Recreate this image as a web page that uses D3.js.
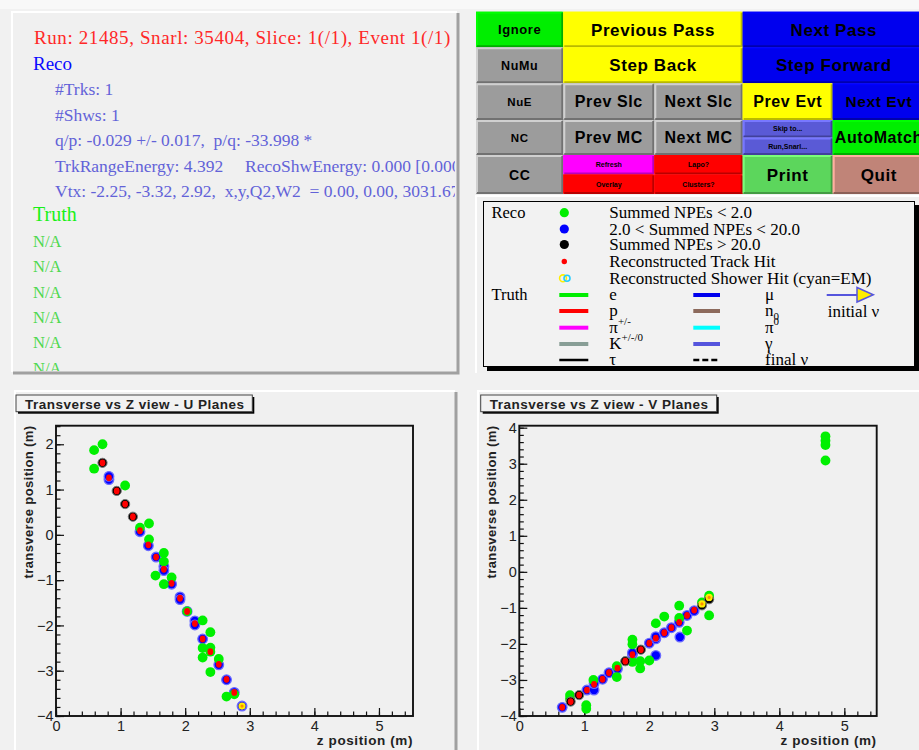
<!DOCTYPE html>
<html><head><meta charset="utf-8">
<script src="https://cdn.jsdelivr.net/npm/d3@7"></script>
<style>body{margin:0;background:#f7f7f7;} svg{display:block}</style>
</head><body><svg id="c" width="919" height="750"></svg>
<script>
// ---------------- DATA ----------------
const headerLine = "Run: 21485, Snarl: 35404, Slice: 1(/1), Event 1(/1)";
const recoTitle = "Reco";
const recoLines = ["#Trks: 1", "#Shws: 1",
  "q/p: -0.029 +/- 0.017,  p/q: -33.998 *",
  "TrkRangeEnergy: 4.392     RecoShwEnergy: 0.000 [0.000 GeV]",
  "Vtx: -2.25, -3.32, 2.92,  x,y,Q2,W2  = 0.00, 0.00, 3031.67"];
const truthTitle = "Truth";
const truthLines = ["N/A", "N/A", "N/A", "N/A", "N/A", "N/A"];

const buttonRows = [
  ["Ignore", "Previous Pass", "Next Pass"],
  ["NuMu", "Step Back", "Step Forward"],
  ["NuE", "Prev Slc", "Next Slc", "Prev Evt", "Next Evt"],
  ["NC", "Prev MC", "Next MC", ["Skip to...", "Run,Snarl..."], "AutoMatch"],
  ["CC", ["Refresh", "Overlay"], ["Lapo?", "Clusters?"], "Print", "Quit"]
];

const recoLegend = ["Summed NPEs < 2.0", "2.0 < Summed NPEs < 20.0", "Summed NPEs > 20.0",
  "Reconstructed Track Hit", "Reconstructed Shower Hit (cyan=EM)"];
const truthLegendA = [["e", ""], ["p", ""], ["π", "+/-"], ["K", "+/-/0"], ["τ", ""]];
const truthLegendB = [["μ", ""], ["n", "0"], ["π", "0"], ["γ", ""], ["final ν", ""]];
const initialNuLabel = "initial ν";

const plotTitles = ["Transverse vs Z view - U Planes", "Transverse vs Z view - V Planes"];
const xAxisTitle = "z position (m)";
const yAxisTitle = "transverse position (m)";

// U view hits [z, transverse]
const uLowNPE = [[0.59,1.87],[0.72,2.00],[0.59,1.46],[1.07,1.09],[1.30,0.16],[1.44,0.25],[1.44,-0.10],
  [1.67,-0.40],[1.67,-0.59],[1.54,-0.90],[1.67,-1.09],[1.79,-0.94],[2.03,-1.69],[2.27,-1.89],[2.39,-2.15],
  [2.27,-2.50],[2.39,-2.49],[2.39,-2.58],[2.27,-2.71],[2.52,-2.74],[2.39,-3.03],[2.64,-3.57],[2.76,-3.52]];
const uMedNPE = [[0.82,1.22],[0.82,1.29],[1.30,0.07],[1.43,-0.24],[1.55,-0.49],[1.67,-0.70],[1.67,-0.79],
  [1.79,-1.09],[1.92,-1.37],[1.92,-1.43],[2.03,-1.69],[2.15,-1.90],[2.15,-1.99],[2.27,-2.30],[2.52,-2.87],
  [2.64,-3.20],[2.76,-3.48],[2.88,-3.78]];
const uHighNPE = [[0.72,1.59],[0.94,0.97],[1.07,0.68],[1.19,0.40]];
const uTrackHits = [[0.72,1.59],[0.82,1.26],[0.94,0.97],[1.07,0.68],[1.19,0.40],[1.30,0.09],[1.43,-0.22],
  [1.55,-0.49],[1.67,-0.76],[1.79,-1.07],[1.92,-1.40],[2.03,-1.69],[2.15,-1.96],[2.27,-2.30],[2.39,-2.58],
  [2.52,-2.86],[2.64,-3.19],[2.76,-3.48]];
const uShowerHits = [[2.88,-3.78]];

// V view hits [z, transverse]
const vLowNPE = [[4.71,3.76],[4.71,3.64],[4.71,3.52],[4.71,3.09],[0.78,-3.42],[0.78,-3.52],[1.03,-3.70],
  [1.03,-3.80],[1.14,-3.00],[1.50,-2.62],[1.50,-2.92],[1.74,-1.88],[1.74,-2.01],[1.74,-2.50],[1.86,-2.48],
  [1.86,-2.68],[2.00,-2.46],[2.10,-1.43],[2.23,-1.24],[2.46,-0.94],[2.46,-1.28],[2.58,-1.63],[2.92,-1.21],
  [2.81,-0.85],[2.92,-0.66],[2.92,-0.72]];
const vMedNPE = [[0.66,-3.76],[1.04,-3.28],[1.15,-3.28],[1.15,-3.10],[1.28,-2.98],[1.38,-2.80],[1.51,-2.69],
  [1.74,-2.30],[1.74,-2.25],[2.00,-1.98],[2.10,-1.86],[2.10,-1.80],[2.23,-1.69],[2.34,-1.55],[2.46,-1.40],
  [2.58,-1.21],[2.69,-1.08],[2.10,-2.32],[2.47,-1.81]];
const vHighNPE = [[0.79,-3.60],[0.92,-3.42],[1.63,-2.48],[1.87,-2.16],[2.81,-0.93],[2.92,-0.76]];
const vTrackHits = [[0.66,-3.76],[0.79,-3.60],[0.92,-3.42],[1.04,-3.28],[1.15,-3.12],[1.28,-2.98],[1.38,-2.80],
  [1.51,-2.67],[1.63,-2.48],[1.74,-2.30],[1.87,-2.16],[2.00,-1.98],[2.10,-1.84],[2.23,-1.69],[2.34,-1.55],
  [2.46,-1.40],[2.58,-1.21],[2.69,-1.06]];
const vShowerHits = [[2.81,-0.89],[2.92,-0.71]];

// ---------------- DRAWING ----------------
const svg = d3.select("#c");
const SERIF = "'Liberation Serif','Times New Roman',serif";
const SANS = "'Liberation Sans',Arial,Helvetica,sans-serif";
const keepSpaces = s => s.replace(/ /g, "\u00a0");

svg.append("rect").attr("width", 919).attr("height", 750).attr("fill", "#f1f1f1");
svg.append("rect").attr("width", 919).attr("height", 9).attr("fill", "#f8f8f8");

function panel(x, y, w, h, shadow) {
  const g = svg.append("g");
  g.append("rect").attr("x", x).attr("y", y).attr("width", w).attr("height", h).attr("fill", "#f0f0f0");
  g.append("path").attr("d", `M${x},${y + h}V${y}H${x + w}`).attr("stroke", "#ffffff").attr("stroke-width", 2).attr("fill", "none");
  if (shadow) g.append("path").attr("d", `M${x + 1},${y + h + 1}H${x + w + 1}V${y + 1}`).attr("stroke", "#a0a0a0").attr("stroke-width", 3).attr("fill", "none");
  return g;
}

// ---- Text panel ----
panel(12, 12, 445, 360, true);
const defs = svg.append("defs");
defs.append("clipPath").attr("id", "tclip").append("rect").attr("x", 12).attr("y", 12).attr("width", 443).attr("height", 359);
const tg = svg.append("g").attr("clip-path", "url(#tclip)").style("font-family", SERIF);
tg.append("text").attr("x", 34).attr("y", 44).attr("font-size", 19).attr("fill", "#ff2828")
  .style("letter-spacing", "0.6px").text(keepSpaces(headerLine));
tg.append("text").attr("x", 33).attr("y", 70).attr("font-size", 19).attr("fill", "#0a0aff").text(recoTitle);
tg.selectAll("text.reco").data(recoLines).join("text").attr("class", "reco")
  .attr("x", 55).attr("y", (d, i) => 95 + i * 25.5).attr("font-size", 17.5).attr("fill", "#6262d8").text(d => keepSpaces(d));
tg.append("text").attr("x", 33).attr("y", 221).attr("font-size", 20).attr("fill", "#18f018").text(truthTitle);
tg.selectAll("text.truth").data(truthLines).join("text").attr("class", "truth")
  .attr("x", 33).attr("y", (d, i) => 247 + i * 25.3).attr("font-size", 16.5).attr("fill", "#4ed84e").text(d => d);

// ---- Buttons ----
const colEdges = [476, 563.3, 654.3, 742.7, 832.7, 925];
const rowEdges = [11.7, 47.3, 83.3, 120, 155, 194];
const btnColor = {
  "Ignore": "#00ee00", "Previous Pass": "#ffff00", "Next Pass": "#0000ee", "NuMu": "#9c9c9c",
  "Step Back": "#ffff00", "Step Forward": "#0000ee", "NuE": "#9c9c9c", "Prev Slc": "#9c9c9c",
  "Next Slc": "#9c9c9c", "Prev Evt": "#ffff00", "Next Evt": "#0000ee", "NC": "#9c9c9c", "Prev MC": "#9c9c9c",
  "Next MC": "#9c9c9c", "Skip to...": "#5a5ad6", "Run,Snarl...": "#5a5ad6", "AutoMatch": "#00ee00", "CC": "#9c9c9c",
  "Refresh": "#ff00ff", "Overlay": "#ff0000", "Lapo?": "#ff0000", "Clusters?": "#ff0000", "Print": "#5cd65c", "Quit": "#c08478"
};
const btnFont = {
  "Ignore": 13, "NuMu": 12.5, "NuE": 11.5, "NC": 11.5, "CC": 14, "Previous Pass": 17, "Next Pass": 17,
  "Step Back": 17, "Step Forward": 17, "AutoMatch": 16, "Print": 17, "Quit": 17, "Next Evt": 15.5
};
const bg = svg.append("g").style("font-family", SANS).style("font-weight", "bold");
function button(x0, x1, y0, y1, label) {
  const c = d3.color(btnColor[label]);
  bg.append("rect").attr("x", x0).attr("y", y0).attr("width", x1 - x0).attr("height", y1 - y0).attr("fill", c);
  bg.append("path").attr("d", `M${x0 + 1},${y1 - 1}V${y0 + 1}H${x1 - 1}`).attr("stroke", c.brighter(0.8)).attr("stroke-width", 2).attr("fill", "none");
  bg.append("path").attr("d", `M${x0 + 1},${y1 - 1}H${x1 - 1}V${y0 + 1}`).attr("stroke", c.darker(0.9)).attr("stroke-width", 2).attr("fill", "none");
  const h = y1 - y0;
  const fs = btnFont[label] || (h < 20 ? 7 : 16);
  bg.append("text").attr("x", (x0 + x1) / 2).attr("y", (y0 + y1) / 2 + fs * 0.36).attr("text-anchor", "middle")
    .attr("font-size", fs).attr("fill", "#000").style("letter-spacing", h < 20 ? "0px" : "0.6px").text(label);
}
buttonRows.forEach((row, ri) => {
  const y0 = rowEdges[ri], y1 = rowEdges[ri + 1];
  const spans = row.length === 3 ? [[0, 1], [1, 3], [3, 5]] : row.map((d, i) => [i, i + 1]);
  row.forEach((lab, ci) => {
    const x0 = colEdges[spans[ci][0]], x1 = colEdges[spans[ci][1]];
    if (Array.isArray(lab)) {
      const ym = (y0 + y1) / 2;
      button(x0, x1, y0, ym, lab[0]);
      button(x0, x1, ym, y1, lab[1]);
    } else button(x0, x1, y0, y1, lab);
  });
});

// ---- Legend ----
panel(476, 196, 450, 177, false);
const lg = svg.append("g").style("font-family", SERIF);
lg.append("rect").attr("x", 487).attr("y", 205).attr("width", 432).attr("height", 166).attr("fill", "#000");
lg.append("rect").attr("x", 483.5).attr("y", 201.5).attr("width", 431).attr("height", 165).attr("fill", "#f2f2f2").attr("stroke", "#000").attr("stroke-width", 1);
const legRowY = [212.7, 229, 244.5, 261.5, 278.3, 295, 311, 327.7, 344, 360];
lg.append("text").attr("x", 491.5).attr("y", legRowY[0] + 5).attr("font-size", 16.5).text("Reco");
lg.append("text").attr("x", 491.5).attr("y", legRowY[5] + 5).attr("font-size", 16.5).text("Truth");
lg.selectAll("text.rl").data(recoLegend).join("text").attr("class", "rl")
  .attr("x", 609.3).attr("y", (d, i) => legRowY[i] + 5.5).attr("font-size", 17).text(d => d);
const mk = lg.append("g");
mk.append("circle").attr("cx", 564.3).attr("cy", legRowY[0]).attr("r", 4.6).attr("fill", "#00ee00");
mk.append("circle").attr("cx", 564.3).attr("cy", legRowY[1]).attr("r", 4.6).attr("fill", "#0000ff");
mk.append("circle").attr("cx", 564.3).attr("cy", legRowY[2]).attr("r", 4.6).attr("fill", "#000");
mk.append("circle").attr("cx", 564.3).attr("cy", legRowY[3]).attr("r", 2.7).attr("fill", "#ff0000");
mk.append("circle").attr("cx", 563).attr("cy", legRowY[4]).attr("r", 3.4).attr("fill", "none").attr("stroke", "#ffee00").attr("stroke-width", 1.6);
mk.append("circle").attr("cx", 567).attr("cy", legRowY[4]).attr("r", 3.0).attr("fill", "none").attr("stroke", "#22ccff").attr("stroke-width", 1.6);
const colA = ["#00ee00", "#ff0000", "#ff00ff", "#889e96", "#000000"];
const colB = ["#0000ee", "#8c6a5c", "#00ffff", "#5555dd", "#000000"];
function truthCol(items, cols, lx0, lx1, tx, dashedLast) {
  items.forEach((it, i) => {
    const y = legRowY[5 + i];
    lg.append("line").attr("x1", lx0).attr("x2", lx1).attr("y1", y).attr("y2", y)
      .attr("stroke", cols[i]).attr("stroke-width", i === 4 ? 2.5 : 4)
      .attr("stroke-dasharray", dashedLast && i === 4 ? "6,3" : null);
    const t = lg.append("text").attr("x", tx).attr("y", y + 5).attr("font-size", 17);
    t.append("tspan").text(it[0]);
    if (it[1]) {
      const sub = it[0] === "n";
      t.append("tspan").attr("dy", sub ? 4 : -8).attr("font-size", 11).text(it[1]);
    }
  });
}
truthCol(truthLegendA, colA, 559.3, 588.3, 609.3, false);
truthCol(truthLegendB, colB, 693.3, 720, 765, true);
lg.append("line").attr("x1", 826.7).attr("x2", 857).attr("y1", 295).attr("y2", 295).attr("stroke", "#5555dd").attr("stroke-width", 2);
lg.append("path").attr("d", "M857,287.5L857,302L873.3,294.7Z").attr("fill", "#ffee00").attr("stroke", "#5555dd").attr("stroke-width", 1.5);
lg.append("text").attr("x", 827.7).attr("y", 316.5).attr("font-size", 17).text(initialNuLabel);

// ---- Plots ----
function plot(cfg) {
  panel(cfg.px, 391, cfg.pw, 370, true);
  const g = svg.append("g");
  // title box
  g.append("rect").attr("x", cfg.tx0 + 2).attr("y", 397).attr("width", cfg.tx1 - cfg.tx0).attr("height", 16.7).attr("fill", "#000");
  g.append("rect").attr("x", cfg.tx0).attr("y", 395).attr("width", cfg.tx1 - cfg.tx0).attr("height", 16.7).attr("fill", "#f2f2f2").attr("stroke", "#444").attr("stroke-width", 1);
  g.append("text").attr("x", cfg.tx0 + 9).attr("y", 408.5).attr("font-family", SANS).attr("font-weight", "bold")
    .attr("font-size", 13.5).attr("fill", "#222").style("letter-spacing", "0.5px").text(cfg.title);

  const x = d3.scaleLinear().domain(cfg.xd).range([cfg.fx0, cfg.fx1]);
  const y = d3.scaleLinear().domain(cfg.yd).range([716, 425.7]);

  const axG = g.append("g").style("font-family", SANS);
  const xa = axG.append("g").attr("transform", "translate(0,716)")
    .call(d3.axisBottom(x).tickValues(d3.range(0, 6, 1)).tickSize(-8).tickPadding(4.5).tickFormat(d3.format("d")));
  const xm = axG.append("g").attr("transform", "translate(0,716)")
    .call(d3.axisBottom(x).tickValues(d3.range(0, cfg.xd[1], 0.2)).tickSize(-4.5).tickFormat(""));
  const ya = axG.append("g").attr("transform", `translate(${cfg.fx0},0)`)
    .call(d3.axisLeft(y).tickValues(d3.range(-4, cfg.yd[1], 1)).tickSize(-8).tickPadding(2.5).tickFormat(d3.format("d")));
  const ym = axG.append("g").attr("transform", `translate(${cfg.fx0},0)`)
    .call(d3.axisLeft(y).tickValues(d3.range(-4, cfg.yd[1], 0.2)).tickSize(-4.5).tickFormat(""));
  [xa, xm, ya, ym].forEach(a => { a.select(".domain").remove(); a.selectAll("line").attr("stroke", "#111").attr("stroke-width", 1.2); });
  [xa, ya].forEach(a => a.selectAll("text").attr("fill", "#222").attr("font-size", 14.5).attr("font-family", SANS));

  g.append("rect").attr("x", cfg.fx0).attr("y", 425.7).attr("width", cfg.fx1 - cfg.fx0).attr("height", 716 - 425.7)
    .attr("fill", "none").attr("stroke", "#111").attr("stroke-width", 1.9);

  g.append("text").attr("x", cfg.fx1).attr("y", 744.5).attr("text-anchor", "end").attr("font-family", SANS)
    .attr("font-weight", "bold").attr("font-size", 13.5).attr("fill", "#222").style("letter-spacing", "0.6px").text(xAxisTitle);
  g.append("text").attr("transform", `translate(${cfg.ylx},425.5) rotate(-90)`).attr("text-anchor", "end")
    .attr("font-family", SANS).attr("font-weight", "bold").attr("font-size", 13).attr("fill", "#222")
    .style("letter-spacing", "0.4px").text(yAxisTitle);

  const pts = g.append("g");
  const dot = (data, r, fill, stroke, sw) => pts.append("g").selectAll("circle").data(data).join("circle")
    .attr("cx", d => x(d[0])).attr("cy", d => y(d[1])).attr("r", r).attr("fill", fill)
    .attr("stroke", stroke || "none").attr("stroke-width", sw || 0);
  dot(cfg.med, 4.8, "#0000ff", "#6a6aff", 1.3);
  dot(cfg.low, 4.9, "#00f000");
  dot(cfg.high, 4.6, "#000000", "#777", 1);
  pts.append("g").selectAll("ellipse").data(cfg.trk).join("ellipse")
    .attr("cx", d => x(d[0])).attr("cy", d => y(d[1])).attr("rx", 2.9).attr("ry", 3.4).attr("fill", "#ff0000");
  dot(cfg.shw, 3.6, "#ffee00");
  dot(cfg.shw, 1.6, "#ff8c00");
}

plot({ px: 15, pw: 440, tx0: 16, tx1: 252.3, fx0: 56, fx1: 413, xd: [0, 5.527], yd: [-4, 2.41], ylx: 33,
  title: plotTitles[0], low: uLowNPE, med: uMedNPE, high: uHighNPE, trk: uTrackHits, shw: uShowerHits });
plot({ px: 478, pw: 450, tx0: 480.7, tx1: 716.7, fx0: 519.3, fx1: 876.7, xd: [0, 5.498], yd: [-4, 4.055], ylx: 496,
  title: plotTitles[1], low: vLowNPE, med: vMedNPE, high: vHighNPE, trk: vTrackHits, shw: vShowerHits });
</script></body></html>
